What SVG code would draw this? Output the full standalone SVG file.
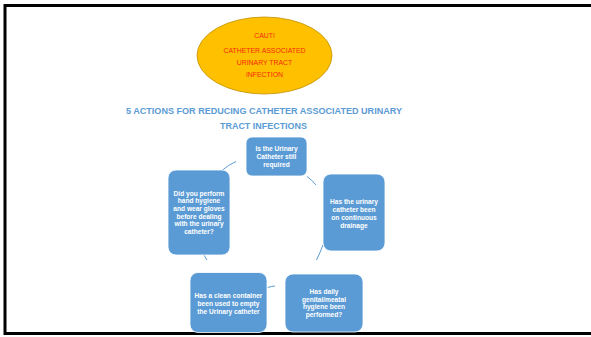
<svg xmlns="http://www.w3.org/2000/svg" width="591" height="337" viewBox="0 0 591 337">
<defs>
<style>
.box{fill:#5B9BD5;stroke:#ffffff;stroke-width:0.8}
.bt{font-family:"Liberation Sans",Arial,sans-serif;font-size:6.6px;font-weight:bold;fill:#ffffff;text-anchor:middle}
.et{font-family:"Liberation Sans",Arial,sans-serif;font-size:6.9px;fill:#F52A0A;text-anchor:middle}
.tt{font-family:"Liberation Sans",Arial,sans-serif;font-size:8.5px;font-weight:bold;fill:#5B9BD5;text-anchor:middle}
.con{fill:none;stroke:#5B9BD5;stroke-width:1}
</style>
</defs>
<rect x="0" y="0" width="591" height="337" fill="#ffffff"/>
<rect x="5" y="5.5" width="620" height="328" fill="none" stroke="#000000" stroke-width="3"/>
<g id="cauti">
<ellipse cx="264.5" cy="55.5" rx="67.5" ry="38.5" fill="#FFC000" stroke="#BF9000" stroke-width="0.8"/>
<text class="et" x="264.5" y="38">CAUTI</text>
<text class="et" x="264.5" y="52.5">CATHETER ASSOCIATED</text>
<text class="et" x="264.5" y="64.5">URINARY TRACT</text>
<text class="et" x="264.5" y="76.5">INFECTION</text>
</g>
<g id="title">
<text class="tt" x="264" y="113.5" textLength="276" lengthAdjust="spacingAndGlyphs">5 ACTIONS FOR REDUCING CATHETER ASSOCIATED URINARY</text>
<text class="tt" x="263.5" y="129" textLength="87" lengthAdjust="spacingAndGlyphs">TRACT INFECTIONS</text>
</g>
<g id="connectors">
<path class="con" d="M222,170.5 Q228,165 236,161.5"/>
<path class="con" d="M307,176.5 Q312,180 316,185"/>
<path class="con" d="M323,245 Q320,253 316.5,260"/>
<path class="con" d="M267.5,287.5 Q271,286.5 275,286"/>
<path class="con" d="M204,255 Q205.5,257.5 207,260"/>
</g>
<g id="step1">
<rect class="box" x="246" y="137" width="61" height="39" rx="6"/>
<text class="bt" x="276.5" y="150.5">Is the Urinary</text>
<text class="bt" x="276.5" y="158.5">Catheter still</text>
<text class="bt" x="276.5" y="166.5">required</text>
</g>
<g id="step2">
<rect class="box" x="323" y="174" width="62" height="77" rx="8"/>
<text class="bt" x="354" y="203.5">Has the urinary</text>
<text class="bt" x="354" y="211.5">catheter been</text>
<text class="bt" x="354" y="219.5">on continuous</text>
<text class="bt" x="354" y="227.5">drainage</text>
</g>
<g id="step3">
<rect class="box" x="285" y="274" width="78" height="58" rx="8"/>
<text class="bt" x="324" y="294">Has daily</text>
<text class="bt" x="324" y="301.7">genital/meatal</text>
<text class="bt" x="324" y="309.4">hygiene been</text>
<text class="bt" x="324" y="317.1">performed?</text>
</g>
<g id="step4">
<rect class="box" x="190" y="272.5" width="77" height="60" rx="8"/>
<text class="bt" x="228.5" y="297.5">Has a clean container</text>
<text class="bt" x="228.5" y="305.5">been used to empty</text>
<text class="bt" x="228.5" y="313.5">the Urinary catheter</text>
</g>
<g id="step5">
<rect class="box" x="168" y="170" width="62" height="85" rx="8"/>
<text class="bt" x="199" y="195.5">Did you perform</text>
<text class="bt" x="199" y="203.2">hand hygiene</text>
<text class="bt" x="199" y="210.9">and wear gloves</text>
<text class="bt" x="199" y="218.6">before dealing</text>
<text class="bt" x="199" y="226.3">with the urinary</text>
<text class="bt" x="199" y="234">catheter?</text>
</g>
</svg>
